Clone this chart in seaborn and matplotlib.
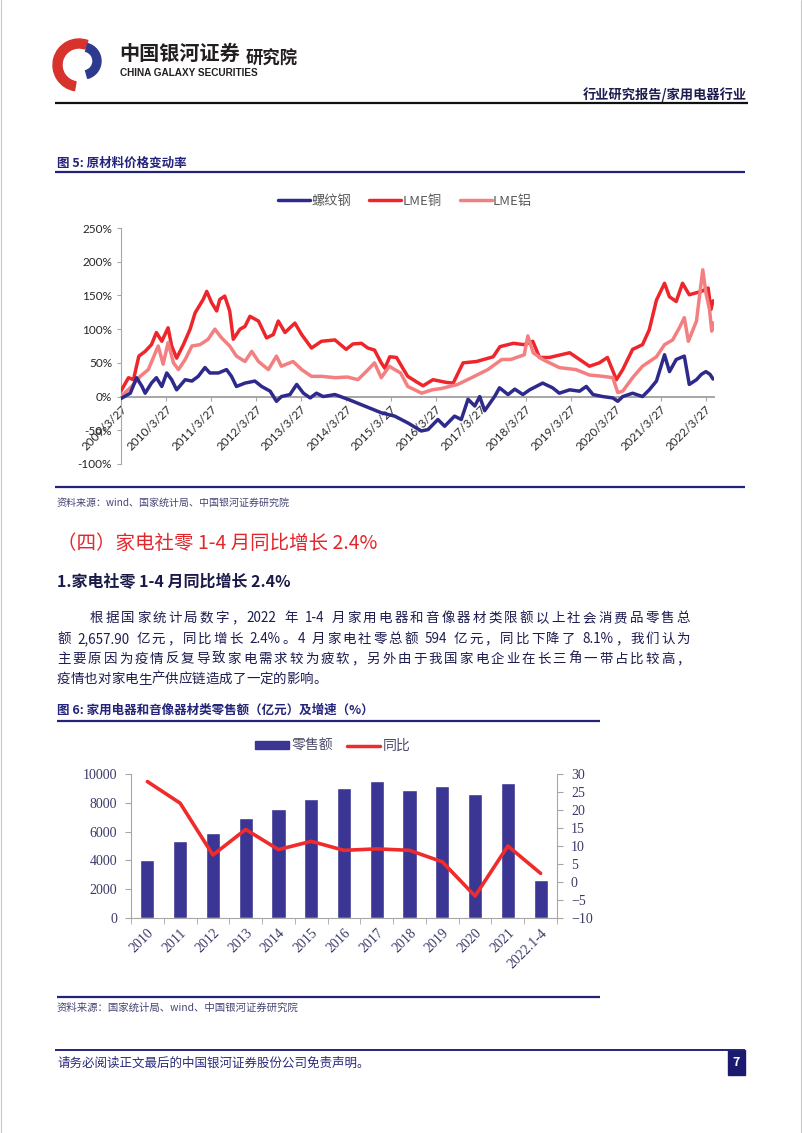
import re
import matplotlib
matplotlib.use('Agg')
import matplotlib.pyplot as plt
import matplotlib.patches as mpatches
from matplotlib.lines import Line2D
from matplotlib.ticker import FuncFormatter, MultipleLocator
from matplotlib.font_manager import FontProperties
import seaborn as sns
import pandas as pd
import numpy as np

W, H = 802, 1133

# ---- 图5 原材料价格变动率 (%), x = decimal year
rebar_t = [2009.23, 2009.44, 2009.58, 2009.70, 2009.77, 2009.91, 2010.02, 2010.14, 2010.25, 2010.36,
           2010.47, 2010.66, 2010.81, 2010.95, 2011.10, 2011.21, 2011.40, 2011.58, 2011.69, 2011.80,
           2011.99, 2012.21, 2012.36, 2012.55, 2012.69, 2012.80, 2012.99, 2013.14, 2013.29, 2013.44,
           2013.58, 2013.73, 2013.99, 2014.28, 2014.65, 2015.02, 2015.32, 2015.61, 2015.91, 2016.06,
           2016.28, 2016.43, 2016.65, 2016.80, 2016.95, 2017.10, 2017.21, 2017.32, 2017.54, 2017.65,
           2017.84, 2017.99, 2018.17, 2018.32, 2018.61, 2018.83, 2018.98, 2019.21, 2019.43, 2019.58,
           2019.73, 2019.95, 2020.17, 2020.28, 2020.39, 2020.61, 2020.83, 2020.98, 2021.14, 2021.32,
           2021.43, 2021.58, 2021.76, 2021.87, 2022.03, 2022.14, 2022.24, 2022.33, 2022.40]
rebar_v = [-3, 5, 28, 15, 5, 20, 28, 15, 35, 25,
           10, 25, 23, 30, 43, 35, 35, 40, 30, 15,
           20, 23, 15, 8, -7, 0, 3, 18, 5, -2,
           5, 0, 3, -4, -14, -24, -29, -39, -51, -49,
           -34, -44, -29, -34, -4, -14, 0, -21, 0, 13,
           3, 11, 3, 10, 20, 13, 5, 10, 8, 15,
           3, 0, -2, -7, 0, 5, 0, 10, 23, 62,
           37, 55, 60, 18, 25, 33, 37, 33, 26]

copper_t = [2009.23, 2009.40, 2009.51, 2009.63, 2009.77, 2009.91, 2010.02, 2010.14, 2010.28, 2010.36,
            2010.47, 2010.62, 2010.77, 2010.88, 2011.06, 2011.14, 2011.25, 2011.36, 2011.43, 2011.54,
            2011.65, 2011.73, 2011.88, 2011.99, 2012.10, 2012.29, 2012.47, 2012.62, 2012.73, 2012.88,
            2013.10, 2013.25, 2013.47, 2013.69, 2013.99, 2014.24, 2014.39, 2014.58, 2014.72, 2014.87,
            2015.02, 2015.10, 2015.21, 2015.36, 2015.50, 2015.61, 2015.80, 2015.95, 2016.17, 2016.47,
            2016.62, 2016.84, 2017.14, 2017.51, 2017.66, 2017.96, 2018.20, 2018.39, 2018.54, 2018.76,
            2019.21, 2019.43, 2019.65, 2019.87, 2020.05, 2020.25, 2020.39, 2020.61, 2020.83, 2020.98,
            2021.14, 2021.32, 2021.43, 2021.58, 2021.72, 2021.87, 2022.03, 2022.14, 2022.29, 2022.35,
            2022.40]
copper_v = [8, 28, 25, 60, 67, 77, 95, 82, 102, 75,
            57, 77, 100, 124, 144, 156, 139, 127, 144, 149,
            127, 85, 100, 104, 119, 112, 87, 92, 112, 95,
            109, 92, 72, 82, 84, 70, 78, 79, 72, 69,
            50, 42, 59, 58, 42, 30, 22, 16, 25, 21,
            20, 50, 52, 59, 74, 79, 77, 82, 58, 58,
            65, 55, 45, 50, 58, 25, 40, 70, 77, 99,
            143, 168, 148, 141, 168, 151, 154, 156, 161, 129,
            142]

alu_t = [2009.23, 2009.47, 2009.66, 2009.84, 2010.06, 2010.17, 2010.28, 2010.40, 2010.51, 2010.66,
         2010.81, 2010.99, 2011.17, 2011.32, 2011.47, 2011.65, 2011.80, 2011.99, 2012.14, 2012.29,
         2012.51, 2012.69, 2012.80, 2013.06, 2013.25, 2013.47, 2013.69, 2014.00, 2014.27, 2014.50,
         2014.70, 2014.87, 2015.02, 2015.20, 2015.32, 2015.45, 2015.61, 2015.92, 2016.15, 2016.36,
         2016.72, 2017.03, 2017.39, 2017.70, 2017.90, 2018.20, 2018.28, 2018.40, 2018.61, 2018.98,
         2019.35, 2019.65, 2019.95, 2020.17, 2020.28, 2020.39, 2020.61, 2020.83, 2021.14, 2021.32,
         2021.50, 2021.65, 2021.76, 2021.85, 2022.03, 2022.17, 2022.24, 2022.32, 2022.37, 2022.40]
alu_v = [0, 15, 30, 40, 75, 48, 80, 50, 40, 55,
         75, 77, 85, 100, 87, 75, 60, 52, 67, 52,
         40, 60, 45, 52, 40, 30, 30, 28, 29, 25,
         38, 50, 28, 45, 40, 35, 15, 5, 10, 12,
         18, 28, 40, 55, 55, 62, 90, 65, 55, 43,
         40, 32, 30, 28, 6, 8, 28, 45, 59, 77,
         84, 102, 117, 82, 112, 188, 154, 129, 97, 109]

series_names = ['螺纹钢', 'LME铜', 'LME铝']
series_colors = ['#2E2A8C', '#EE262B', '#F47F80']
tick_years = list(range(2009, 2023))

# ---- 图6 家用电器和音像器材类零售额 (亿元) 及增速 (%)
years = ['2010', '2011', '2012', '2013', '2014', '2015', '2016', '2017', '2018', '2019', '2020', '2021', '2022.1-4']
retail = [4046, 5380, 5930, 6940, 7600, 8280, 9035, 9480, 8890, 9150, 8590, 9365, 2658]
yoy = [27.9, 21.9, 7.5, 14.6, 9.0, 11.3, 8.8, 9.2, 8.8, 5.6, -3.9, 10.0, 2.4]

para = [
    '根据国家统计局数字，2022 年 1-4 月家用电器和音像器材类限额以上社会消费品零售总',
    '额 2,657.90 亿元，同比增长 2.4%。4 月家电社零总额 594 亿元，同比下降了 8.1%，我们认为',
    '主要原因为疫情反复导致家电需求较为疲软，另外由于我国家电企业在长三角一带占比较高，',
    '疫情也对家电生产供应链造成了一定的影响。',
]

NAVY = '#23237A'
TEXT = '#1C1C50'
GREY = '#A6A6A6'

sns.set_style('white')
plt.rcParams['font.family'] = ['Noto Sans CJK SC', 'DejaVu Sans']

fig = plt.figure(figsize=(W / 100, H / 100), dpi=100)
bg = fig.add_axes([0, 0, 1, 1], zorder=-1)
bg.set_xlim(0, W)
bg.set_ylim(H, 0)
bg.axis('off')


def rect(x0, y0, x1, y1):
    return [x0 / W, 1 - y1 / H, (x1 - x0) / W, (y1 - y0) / H]


def hline(y, x0, x1, color=NAVY, lw=1.6):
    bg.plot([x0, x1], [y, y], color=color, lw=lw, solid_capstyle='butt')


# ---- page header
bg.plot([0.5, 0.5], [0, H], color='#C8C8C8', lw=0.8)
bg.plot([800.5, 800.5], [0, H], color='#C8C8C8', lw=0.8)
bg.add_patch(mpatches.Wedge((79, 65), 26, 100, 290, width=9, color='#D8322C'))
bg.add_patch(mpatches.Wedge((83, 61), 18, -75, 75, width=8, color='#2E3A8E'))
bg.text(119, 53, '中国银河证券', fontsize=14.5, fontweight='bold', color='#231F20', va='center')
bg.text(120, 73, 'CHINA GALAXY SECURITIES', fontsize=7.2, fontweight='bold',
        family='Liberation Sans', color='#231F20', va='center')
bg.text(246, 59, '研究院', fontsize=12.5, fontweight='bold', color='#231F20', va='center')
bg.text(747, 95, '行业研究报告/家用电器行业', fontsize=9.5, fontweight='bold', color=TEXT,
        va='center', ha='right')
hline(103, 55, 748, color='#111111', lw=1.6)

# ---- 图5
bg.text(57, 163, '图 5: 原材料价格变动率', fontsize=9, fontweight='bold', color=NAVY, va='center')
hline(172, 55, 745)
hline(487, 55, 745)
bg.text(57, 503, '资料来源：wind、国家统计局、中国银河证券研究院', fontsize=7.2, color='#454575',
        va='center', style='italic')

df = pd.concat([
    pd.DataFrame({'t': rebar_t, 'v': rebar_v, 's': series_names[0]}),
    pd.DataFrame({'t': copper_t, 'v': copper_v, 's': series_names[1]}),
    pd.DataFrame({'t': alu_t, 'v': alu_v, 's': series_names[2]}),
])
ax1 = fig.add_axes(rect(121, 228, 714, 464))
sns.lineplot(data=df, x='t', y='v', hue='s', palette=dict(zip(series_names, series_colors)),
             hue_order=[series_names[1], series_names[2], series_names[0]],
             estimator=None, sort=False, lw=2.5, ax=ax1, legend=False)
ax1.spines['bottom'].set_position(('data', 0))
ax1.set_xlim(2009 + 85 / 365, 2022.42)
ax1.set_ylim(-100, 250)
ax1.yaxis.set_major_locator(MultipleLocator(50))
ax1.yaxis.set_major_formatter(FuncFormatter(lambda v, p: f'{v:.0f}%'))
ax1.set_xticks([y + 85 / 365 for y in tick_years])
ax1.set_xticklabels([f'{y}/3/27' for y in tick_years], rotation=45, ha='right', rotation_mode='anchor')
for s in ['top', 'right']:
    ax1.spines[s].set_visible(False)
for s in ['left', 'bottom']:
    ax1.spines[s].set_color(GREY)
    ax1.spines[s].set_zorder(1)
ax1.spines['bottom'].set_linewidth(1.4)
ax1.tick_params(axis='both', direction='out', length=3, width=0.8, color=GREY,
                labelsize=8.5, labelcolor='#262626', bottom=True, left=True)
ax1.tick_params(axis='x', pad=2)
for lbl in ax1.get_xticklabels() + ax1.get_yticklabels():
    lbl.set_family('Lato')
ax1.set_xlabel('')
ax1.set_ylabel('')
ax1.patch.set_alpha(0)

fig.legend(handles=[Line2D([], [], color=c, lw=2.5) for c in series_colors], labels=series_names,
           loc='center', bbox_to_anchor=(405 / W, 1 - 201 / H), ncol=3, frameon=False,
           handlelength=2.4, handletextpad=0.1, columnspacing=1.4, fontsize=9.5, labelcolor='#595959')

# ---- section text
bg.text(57, 543, '（四）家电社零 1-4 月同比增长 2.4%', fontsize=14, color='#E3262B', va='center')
bg.text(57, 582, '1.家电社零 1-4 月同比增长 2.4%', fontsize=11.5, fontweight='bold', color='#1A1A48',
        va='center')

rend = fig.canvas.get_renderer()


def justify(text, x0, x1, yb, size, stretch=True):
    prop = FontProperties(family='Noto Sans CJK SC', size=size)
    toks = re.findall(r'[!-~]+| |[^ -~]', text)
    base = rend.get_text_width_height_descent('国国', prop, ismath=False)[0]
    widths = [rend.get_text_width_height_descent('国' + t + '国', prop, ismath=False)[0] - base
              for t in toks]
    gap = (x1 - x0 - sum(widths)) / (len(toks) - 1) if stretch else 0
    x = x0
    for t, w in zip(toks, widths):
        if t != ' ':
            bg.text(x, yb, t, fontproperties=prop, color=TEXT, ha='left', va='baseline')
        x += w + gap


line_y = [622, 643, 663, 683]
for i, line in enumerate(para):
    justify(line, 90 if i == 0 else 57, 690, line_y[i], 9.7, stretch=(i < len(para) - 1))

# ---- 图6
bg.text(57, 710, '图 6: 家用电器和音像器材类零售额（亿元）及增速（%）', fontsize=9, fontweight='bold',
        color=NAVY, va='center')
hline(721, 57, 600)
hline(997, 57, 600)
bg.text(57, 1008, '资料来源：国家统计局、wind、中国银河证券研究院', fontsize=7.5, color='#454575',
        va='center', style='italic')

BAR = '#3B3594'
RED = '#F02B2B'
ax2 = fig.add_axes(rect(131, 774, 557, 918))
sns.barplot(x=years, y=retail, color=BAR, width=0.43, saturation=1, ax=ax2)
ax3 = ax2.twinx()
sns.lineplot(x=np.arange(len(years)), y=yoy, color=RED, lw=2.6, ax=ax3)
ax2.set_ylim(0, 10000)
ax3.set_ylim(-10, 30)
ax2.set_xlim(-0.5, len(years) - 0.5)
ax2.yaxis.set_major_locator(MultipleLocator(2000))
ax3.yaxis.set_major_locator(MultipleLocator(5))
ax2.set_xticks(np.arange(len(years) + 1) - 0.5, minor=True)
ax2.set_xticklabels(years, rotation=45, ha='right', rotation_mode='anchor')
ax2.tick_params(axis='x', which='major', length=0, pad=6)
ax2.tick_params(axis='x', which='minor', length=4, color=GREY, bottom=True, direction='out')
ax2.tick_params(axis='y', length=4, color=GREY, left=True, direction='out', pad=6)
ax3.tick_params(axis='y', length=4, color=GREY, right=True, direction='out', pad=6)
for a in (ax2, ax3):
    a.set_xlabel('')
    a.set_ylabel('')
    a.spines['top'].set_visible(False)
    for s in a.spines.values():
        s.set_color(GREY)
    for lbl in a.get_xticklabels() + a.get_yticklabels():
        lbl.set_family('Liberation Serif')
        lbl.set_fontsize(10)
        lbl.set_color('#3A3A6A')
ax2.spines['right'].set_visible(False)
ax3.spines['left'].set_visible(False)
ax3.spines['bottom'].set_visible(False)
ax2.patch.set_alpha(0)

fig.legend(handles=[mpatches.Patch(color=BAR), Line2D([], [], color=RED, lw=2.5)], labels=['零售额', '同比'],
           loc='center', bbox_to_anchor=(333 / W, 1 - 746 / H), ncol=2, frameon=False,
           handlelength=2.4, handleheight=0.5, handletextpad=0.2, columnspacing=1.0, fontsize=10,
           labelcolor='#4A4A6A')

# ---- footer
hline(1050, 55, 745, lw=1.4)
bg.text(57, 1063, '请务必阅读正文最后的中国银河证券股份公司免责声明。', fontsize=9, color='#2A2A7A', va='center')
bg.add_patch(mpatches.Rectangle((728, 1050), 17, 25, color='#1A1A6E'))
bg.text(736.5, 1062.5, '7', fontsize=9, fontweight='bold', color='white', ha='center', va='center')

fig.savefig('out.png', dpi=100)
